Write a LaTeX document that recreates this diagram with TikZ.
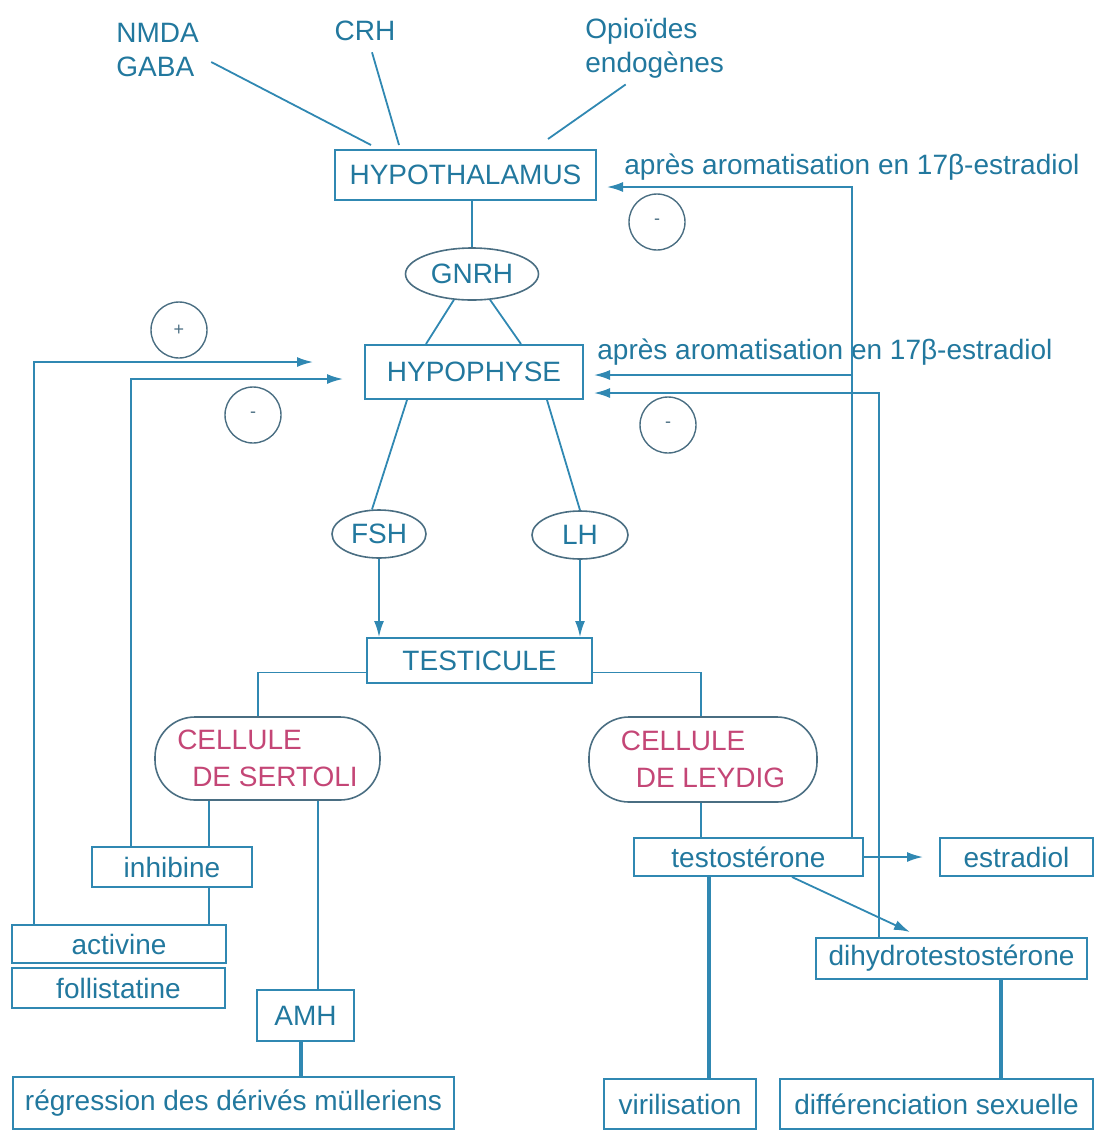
\documentclass[tikz,border=0pt]{standalone}
\usepackage{fontspec}
\setmainfont{Liberation Sans}
\usetikzlibrary{shapes.geometric,arrows.meta,calc}
\definecolor{hblue}{RGB}{34,120,158}
\definecolor{hline}{RGB}{48,136,178}
\definecolor{hpink}{RGB}{196,70,118}
\definecolor{hgrey}{RGB}{74,110,130}

\begin{document}
\begin{tikzpicture}[
    x=0.5pt, y=-0.5pt,
    every node/.style={font=\fontsize{14}{17}\selectfont, text=hblue},
    box/.style={rectangle, draw=hline, line width=1pt, inner sep=0pt, align=center},
    horm/.style={ellipse, draw=hgrey, line width=0.8pt, inner sep=0pt},
    cell/.style={rectangle, rounded corners=20pt, draw=hgrey, line width=0.8pt,
                 inner sep=0pt, align=left, text=hpink, font=\fontsize{14}{18.5}\selectfont},
    sign/.style={circle, draw=hgrey, line width=0.7pt, minimum size=28pt, inner sep=0pt,
                 font=\fontsize{9}{9}\selectfont, text=hgrey},
    lbl/.style={inner sep=0pt, align=left},
    link/.style={draw=hline, line width=0.9pt},
    arr/.style={link, -{Latex[length=8pt,width=5pt]}},
    heavy/.style={draw=hline, line width=1.7pt},
]
\useasboundingbox (0,0) rectangle (1095,1131);

% Nodes
\node[lbl, anchor=west] (nmda) at (116,50)  {NMDA\\GABA};
\node[lbl]              (crh)  at (365,31)  {CRH};
\node[lbl, anchor=west] (opio) at (585,48)  {Opioïdes\\endogènes};

\node[box, minimum width=130.5pt, minimum height=25pt] (hypo) at (465.5,175) {HYPOTHALAMUS};
\node[horm, minimum width=66.5pt, minimum height=26pt] (gnrh) at (472,274) {GNRH};
\node[box, minimum width=109pt, minimum height=27pt] (hypoph) at (474,372) {HYPOPHYSE};
\node[horm, minimum width=47pt, minimum height=24pt] (fsh) at (379,534) {FSH};
\node[horm, minimum width=48pt, minimum height=24pt] (lh)  at (580,535) {LH};
\node[box, minimum width=112.5pt, minimum height=22.5pt] (testi) at (479.5,660.5) {TESTICULE};

\node[cell, minimum width=112.5pt, minimum height=41.5pt] (sertoli) at (267.5,758.5) {CELLULE\\\hspace*{7.5pt}DE SERTOLI};
\node[cell, minimum width=114pt, minimum height=42.5pt]   (leydig)  at (703,759.5)   {CELLULE\\\hspace*{7.5pt}DE LEYDIG};

\node[box, minimum width=80pt, minimum height=20pt]      (inhib)  at (172,867)     {inhibine};
\node[box, minimum width=107pt, minimum height=19pt]     (activ)  at (119,944)     {activine};
\node[box, minimum width=106.5pt, minimum height=20pt]   (follis) at (118.5,988)   {follistatine};
\node[box, minimum width=48.5pt, minimum height=25.5pt]  (amh)    at (305.5,1015.5) {AMH};
\node[box, minimum width=220.5pt, minimum height=26pt]   (regr)   at (233.5,1103)  {régression des dérivés mülleriens};

\node[box, minimum width=114.5pt, minimum height=19pt]   (testo)  at (748.5,857)   {testostérone};
\node[box, minimum width=76.5pt, minimum height=19pt]    (estr)   at (1016.5,857)  {estradiol};
\node[box, minimum width=135.5pt, minimum height=20.5pt] (dht)    at (951.5,958.5) {dihydrotestostérone};
\node[box, minimum width=76pt, minimum height=25pt]      (viril)  at (680,1104)    {virilisation};
\node[box, minimum width=156.5pt, minimum height=25pt]   (diff)   at (936.5,1104)  {différenciation sexuelle};

\node[lbl, anchor=west] (arom1) at (624,167) {après aromatisation en 17β-estradiol};
\node[lbl, anchor=west] (arom2) at (597,352) {après aromatisation en 17β-estradiol};

\node[sign] (minus1) at (657,222) {-};
\node[sign] (plus)   at (179,330) {+};
\node[sign] (minus2) at (253,415) {-};
\node[sign] (minus3) at (668,425) {-};

% Links
\draw[link] ($(nmda.east)+(12,12)$) -- ($(hypo.north west)+(37,-4)$);
\draw[link] ($(crh.south)+(7,11)$) -- ($(hypo.north west)+(65,-4)$);
\draw[link] ($(opio.south)+(-29,6)$) -- ($(hypo.north east)+(-49,-10)$);
\draw[link] (gnrh.north) -- (gnrh.north |- hypo.south);
\draw[link] (gnrh.235) -- ($(hypoph.north)+(-48,0)$);
\draw[link] (gnrh.305) -- ($(hypoph.north)+(47,0)$);
\draw[link] ($(hypoph.south)+(-67,0)$) -- (fsh.106);
\draw[link] ($(hypoph.south)+(73,0)$) -- (lh.north);
\draw[arr] (fsh.south) -- (fsh.south |- testi.north);
\draw[arr] (lh.south) -- (lh.south |- testi.north);
\draw[link] ([yshift=-6pt]testi.west) -| ([xshift=-4.75pt]sertoli.north);
\draw[link] ([yshift=-6pt]testi.east) -| ([xshift=-1pt]leydig.north);

\draw[link] ([xshift=18.5pt]inhib.north) -- ([xshift=18.5pt]inhib.north |- sertoli.south);
\draw[link] ([xshift=18.5pt]inhib.south) -- ([xshift=18.5pt]inhib.south |- activ.north);
\draw[link] ([xshift=6.25pt]amh.north) -- ([xshift=6.25pt]amh.north |- sertoli.south);
\draw[heavy] ([xshift=-2.25pt]amh.south) -- ([xshift=-2.25pt]amh.south |- regr.north);

\draw[link] ([xshift=-1pt]leydig.south) -- ([xshift=-1pt]leydig.south |- testo.north);
\draw[arr, shorten >=8pt] (testo.east) -- (estr.west);
\draw[arr] ([xshift=21.75pt]testo.south) -- ([xshift=-20.75pt,yshift=2.5pt]dht.north);
\draw[heavy] ([xshift=38pt]testo.south west) -- ([xshift=38pt]testo.south west |- viril.north);
\draw[heavy] ([xshift=24.75pt]dht.south) -- ([xshift=24.75pt]dht.south |- diff.north);

% Feedback
\draw[arr] ([xshift=11.5pt]activ.north west) |- ([xshift=-25.5pt,yshift=5pt]hypoph.west);
\draw[arr] ([xshift=20pt]inhib.north west) |- ([xshift=-10.5pt,yshift=-3.5pt]hypoph.west);
\draw[arr] ([xshift=-6pt]testo.north east) |- ([xshift=5pt,yshift=-6pt]hypo.east);
\draw[arr] ([xshift=-6pt,yshift=-1.5pt]testo.north east |- hypoph.east) -- ([xshift=5pt,yshift=-1.5pt]hypoph.east);
\draw[arr] ([xshift=32pt]dht.north west) |- ([xshift=5pt,yshift=-10.5pt]hypoph.east);

\end{tikzpicture}
\end{document}
